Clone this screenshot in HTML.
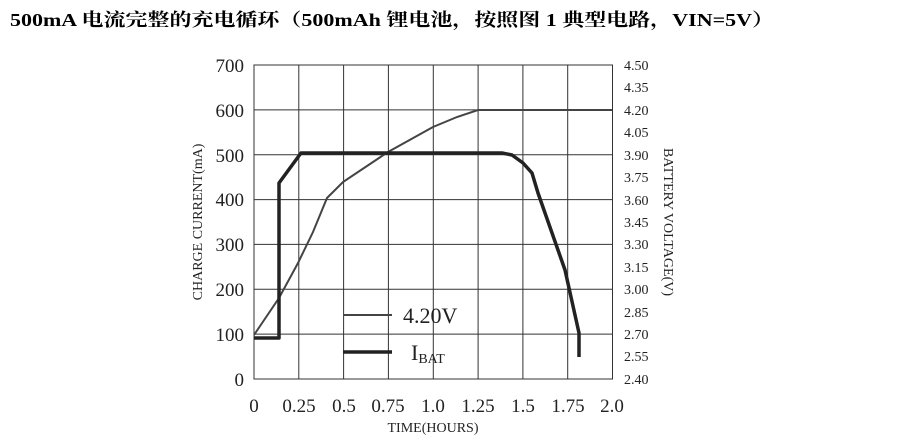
<!DOCTYPE html>
<html><head><meta charset="utf-8"><style>body{margin:0;background:#fff}svg{display:block}</style></head><body>
<svg width="919" height="442" xmlns="http://www.w3.org/2000/svg">
<text x="10" y="26" font-family="Liberation Serif, Noto Serif CJK SC, serif" font-weight="bold" font-size="18" fill="#000" textLength="764" lengthAdjust="spacingAndGlyphs">500mA 电流完整的充电循环（500mAh 锂电池，按照图 1 典型电路，VIN=5V）</text>
<g stroke="#333" stroke-width="1" fill="none">
<rect x="254" y="65" width="358.5" height="314"/>
<path d="M298.8 65V379M343.6 65V379M388.4 65V379M433.3 65V379M478.1 65V379M522.9 65V379M567.7 65V379"/>
<path d="M254 109.9H612.5M254 154.7H612.5M254 199.6H612.5M254 244.4H612.5M254 289.3H612.5M254 334.1H612.5"/>
</g>
<polyline fill="none" stroke="#444" stroke-width="2" points="254,335 279,298 298,263 313,232 327,198 343,182 388,152 433,127 457,117 478,110 612,110"/>
<polyline fill="none" stroke="#222" stroke-width="3.5" stroke-linejoin="round" points="254,338 279,338 279,183 301,153 502,153 512,155 523,163 532,173 538,193 565,270 579,333 579,357"/>
<line x1="343" y1="315" x2="392" y2="315" stroke="#444" stroke-width="2"/>
<line x1="343" y1="352" x2="392" y2="352" stroke="#222" stroke-width="3.5"/>
<g font-family="Liberation Serif, serif" fill="#222">
<text x="403" y="323" font-size="22">4.20V</text>
<text x="411" y="360" font-size="22">I<tspan font-size="14" dy="3">BAT</tspan></text>
<g font-size="19" text-anchor="end">
<text x="244" y="72">700</text><text x="244" y="117">600</text><text x="244" y="162">500</text><text x="244" y="206">400</text><text x="244" y="251">300</text><text x="244" y="296">200</text><text x="244" y="341">100</text><text x="244" y="386">0</text>
</g>
<g font-size="14">
<text x="624" y="70">4.50</text><text x="624" y="92">4.35</text><text x="624" y="115">4.20</text><text x="624" y="137">4.05</text><text x="624" y="160">3.90</text><text x="624" y="182">3.75</text><text x="624" y="205">3.60</text><text x="624" y="227">3.45</text><text x="624" y="249">3.30</text><text x="624" y="272">3.15</text><text x="624" y="294">3.00</text><text x="624" y="317">2.85</text><text x="624" y="339">2.70</text><text x="624" y="361">2.55</text><text x="624" y="384">2.40</text>
</g>
<g font-size="19" text-anchor="middle">
<text x="254" y="412">0</text><text x="299" y="412">0.25</text><text x="344" y="412">0.5</text><text x="388" y="412">0.75</text><text x="433" y="412">1.0</text><text x="478" y="412">1.25</text><text x="523" y="412">1.5</text><text x="568" y="412">1.75</text><text x="612" y="412">2.0</text>
</g>
<text x="433" y="432" font-size="14" text-anchor="middle">TIME(HOURS)</text>
<text transform="translate(202,222) rotate(-90)" font-size="14" text-anchor="middle">CHARGE CURRENT(mA)</text>
<text transform="translate(664,222) rotate(90)" font-size="14" text-anchor="middle">BATTERY VOLTAGE(V)</text>
</g>
</svg>
</body></html>
